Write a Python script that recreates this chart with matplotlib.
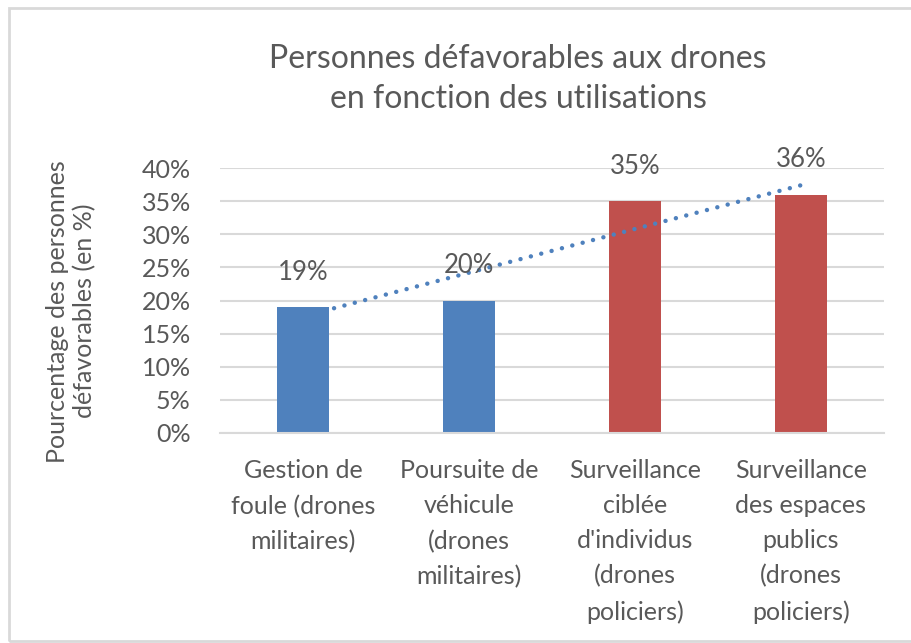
import matplotlib
matplotlib.use("Agg")
import matplotlib.pyplot as plt
import numpy as np
from matplotlib.patches import Rectangle

# Data
categories = [
    "Gestion de\nfoule (drones\nmilitaires)",
    "Poursuite de\nvéhicule\n(drones\nmilitaires)",
    "Surveillance\nciblée\nd'individus\n(drones\npoliciers)",
    "Surveillance\ndes espaces\npublics\n(drones\npoliciers)",
]
values = [0.19, 0.20, 0.35, 0.36]
labels = ["19%", "20%", "35%", "36%"]
bar_colors = ["#4f81bd", "#4f81bd", "#c0504d", "#c0504d"]
yticks = [0.0, 0.05, 0.10, 0.15, 0.20, 0.25, 0.30, 0.35, 0.40]
ytick_labels = ["0%", "5%", "10%", "15%", "20%", "25%", "30%", "35%", "40%"]

title = "Personnes défavorables aux drones\nen fonction des utilisations"
ylabel = "Pourcentage des personnes\ndéfavorables (en %)"

text_col = "#595959"
grid_col = "#d9d9d9"
plt.rcParams['font.family'] = ['Lato', 'DejaVu Sans']

fig = plt.figure(figsize=(9.12, 6.43), dpi=100)
ax = fig.add_axes([0.2412, 0.3266, 0.7281, 0.4121])

x = np.arange(len(values))
ax.bar(x, values, width=0.31, color=bar_colors, zorder=2)

# linear trendline
coef = np.polyfit(x, values, 1)
xt = np.array([x[0], x[-1]])
ax.plot(xt, np.polyval(coef, xt), color="#4f81bd", lw=3.2,
        linestyle=(0, (0.01, 2.4)), dash_capstyle="round", zorder=3)

for xi, v, lab in zip(x, values, labels):
    ax.annotate(lab, (xi, v), xytext=(0, 25), textcoords="offset points",
                ha="center", va="center", fontsize=18.5, color=text_col,
                zorder=4)

ax.set_xlim(-0.5, len(values) - 0.5)
ax.set_ylim(0, 0.40)
ax.set_yticks(yticks)
ax.set_yticklabels(ytick_labels)
ax.set_xticks(x)
ax.set_xticklabels(categories, linespacing=1.63, va="top")
ax.tick_params(axis="y", length=0, pad=21, labelsize=18, labelcolor=text_col)
ax.tick_params(axis="x", length=0, pad=19, labelsize=18, labelcolor=text_col)
ax.yaxis.grid(True, color=grid_col, lw=1.5, zorder=0)
ax.set_axisbelow(True)
for s in ["top", "right", "left"]:
    ax.spines[s].set_visible(False)
ax.spines["bottom"].set_color(grid_col)
ax.spines["bottom"].set_linewidth(1.5)

fig.text(0.568, 0.877, title, ha="center", va="center", fontsize=23,
         color=text_col, linespacing=1.45)
fig.text(0.078, 0.516, ylabel, ha="center", va="center", rotation=90,
         fontsize=18, color=text_col, linespacing=1.25)

# outer chart border
fig.add_artist(Rectangle((9 / 912, 2 / 643), 1.0, 633 / 643,
                         transform=fig.transFigure, fill=False,
                         edgecolor=grid_col, lw=2))

fig.savefig("out.png", dpi=100)
